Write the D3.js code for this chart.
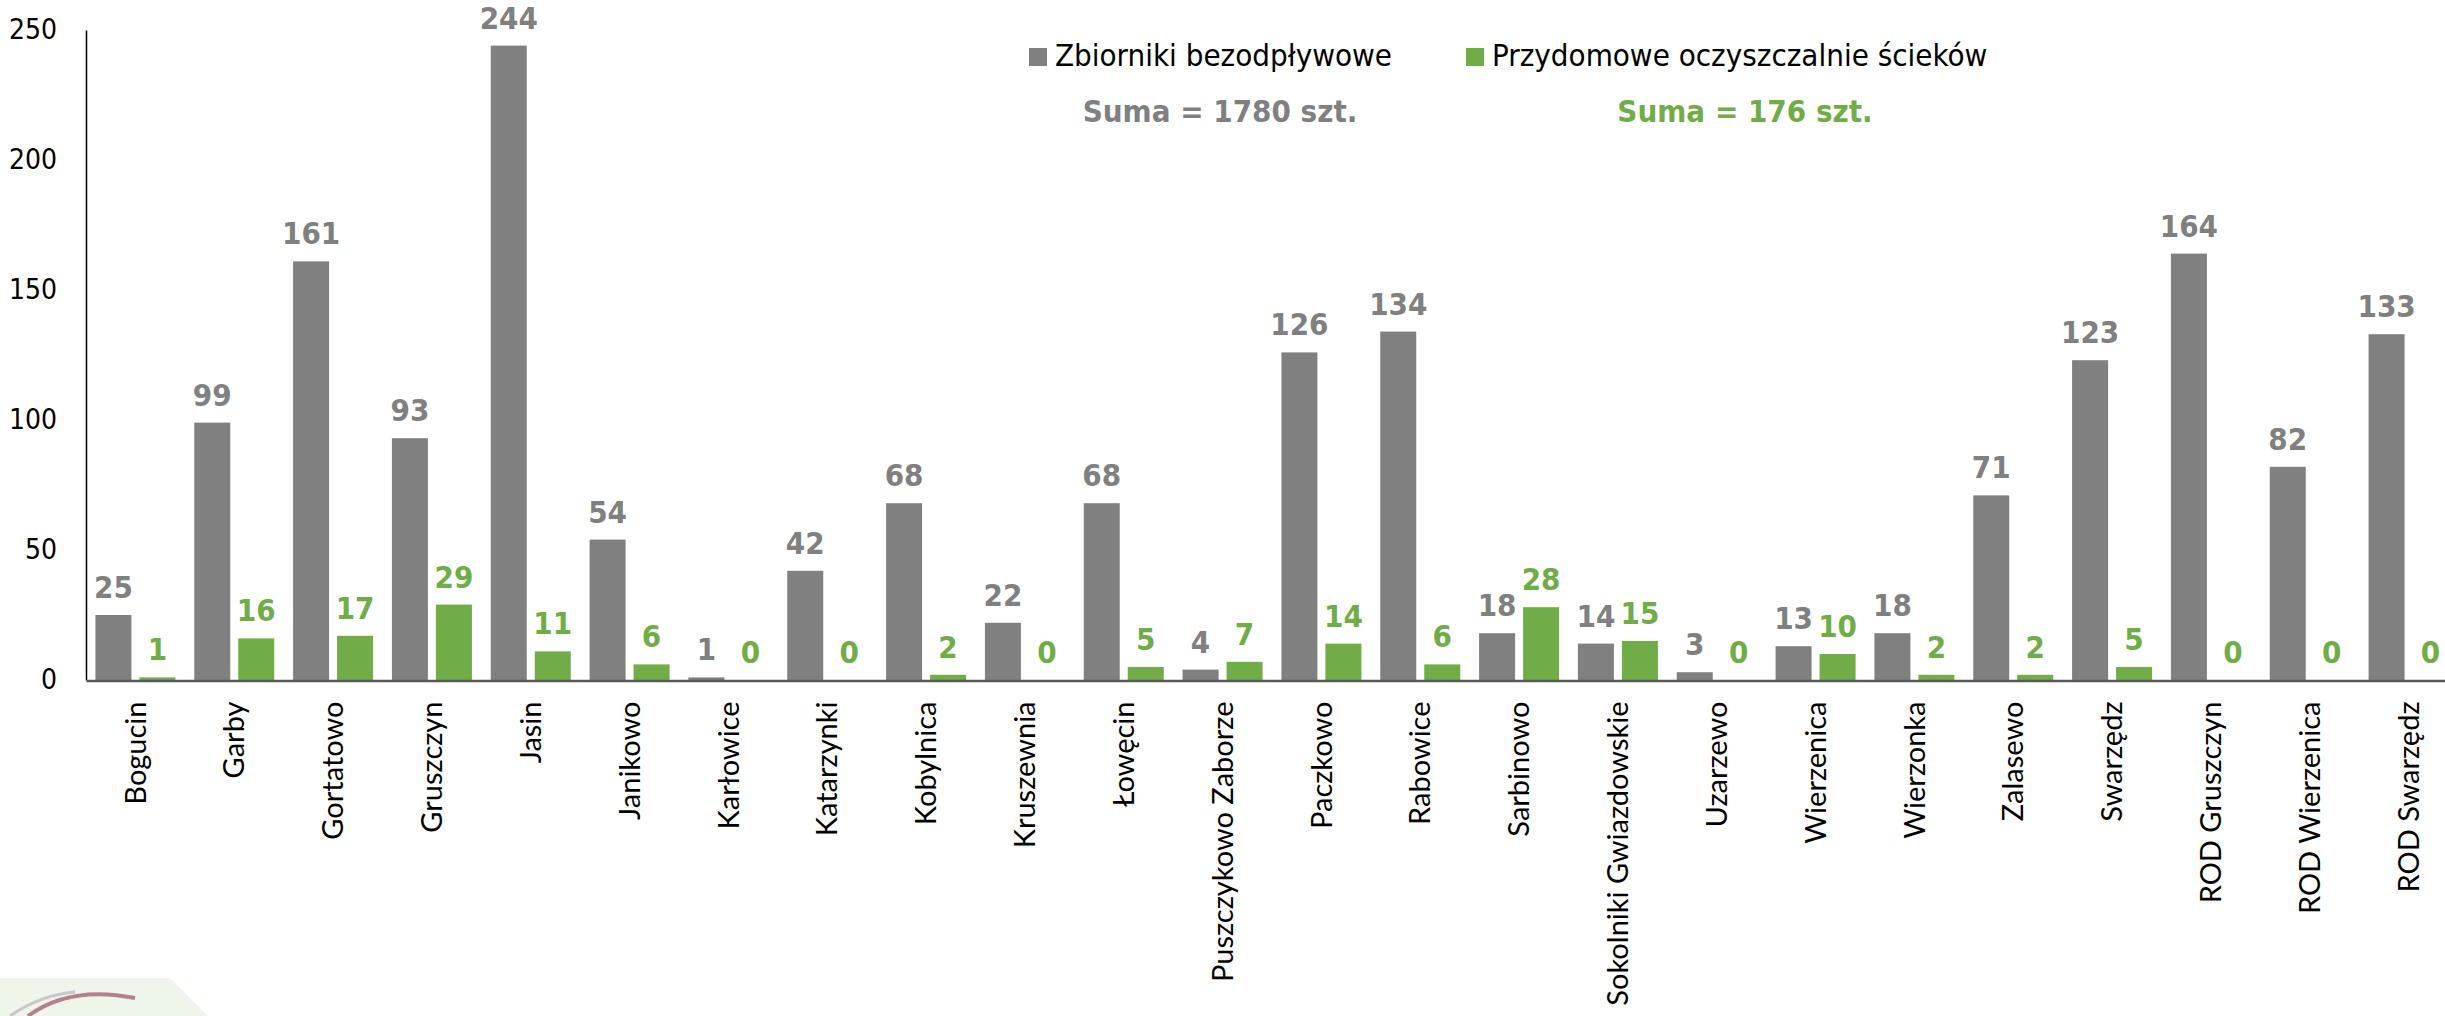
<!DOCTYPE html>
<html>
  <head>
    <meta charset="UTF-8" />
    <script src="https://cdnjs.cloudflare.com/ajax/libs/d3/7.8.5/d3.min.js"></script>
    <style>
      body { margin: 0; background: #fff; }
      .din { font-family: "DejaVu Sans Condensed", "DejaVu Sans", sans-serif; font-stretch: condensed; }
      .cat { font-family: Lato, "Noto Sans", sans-serif; }
    </style>
  </head>
  <body>
    <div id="viz"><svg style="width:2445px;height:1016px;"></svg></div>
    <script>
      const categories = [
        "Bogucin", "Garby", "Gortatowo", "Gruszczyn", "Jasin", "Janikowo",
        "Karłowice", "Katarzynki", "Kobylnica", "Kruszewnia", "Łowęcin",
        "Puszczykowo Zaborze", "Paczkowo", "Rabowice", "Sarbinowo",
        "Sokolniki Gwiazdowskie", "Uzarzewo", "Wierzenica", "Wierzonka",
        "Zalasewo", "Swarzędz", "ROD Gruszczyn", "ROD Wierzenica", "ROD Swarzędz"
      ];
      const zbiorniki = [25, 99, 161, 93, 244, 54, 1, 42, 68, 22, 68, 4, 126, 134, 18, 14, 3, 13, 18, 71, 123, 164, 82, 133];
      const oczyszczalnie = [1, 16, 17, 29, 11, 6, 0, 0, 2, 0, 5, 7, 14, 6, 28, 15, 0, 10, 2, 2, 5, 0, 0, 0];
      const seriesNames = ["Zbiorniki bezodpływowe", "Przydomowe oczyszczalnie ścieków"];
      const yTicks = [0, 50, 100, 150, 200, 250];

      const gray = "#808080",
        green = "#70ad47";

      const svg = d3.select("svg");

      // faint logo in the corner
      svg.append("path")
        .attr("d", "M0,978 L170,978 L208,1016 L0,1016 Z")
        .attr("fill", "#eef6ec");
      svg.append("path")
        .attr("d", "M28,1016 Q70,985 135,998")
        .attr("fill", "none")
        .attr("stroke", "#b5808e")
        .attr("stroke-width", 4);
      svg.append("path")
        .attr("d", "M10,1016 Q40,995 75,992")
        .attr("fill", "none")
        .attr("stroke", "#c8c8c8")
        .attr("stroke-width", 3);

      const xScale = d3.scaleBand()
          .domain(categories)
          .range([86, 2458]),
        xSeries = d3.scaleBand()
          .domain([0, 1])
          .range([0, xScale.bandwidth()])
          .paddingInner(0.182)
          .paddingOuter(0.214),
        yScale = d3.scaleLinear()
          .domain([0, 250])
          .range([680, 30]);

      const yAxis = d3.axisLeft(yScale)
        .tickValues(yTicks)
        .tickSize(0)
        .tickPadding(29);
      const yAxisG = svg.append("g")
        .attr("transform", "translate(86,0)")
        .call(yAxis);
      yAxisG.select(".domain").attr("stroke", "#000").attr("stroke-width", 1.5);
      yAxisG.selectAll("text")
        .attr("class", "din")
        .attr("font-size", 28)
        .attr("fill", "#000");

      const rows = categories.map((c, i) => ({ cat: c, values: [zbiorniki[i], oczyszczalnie[i]] }));
      const colors = [gray, green];

      const groups = svg.selectAll("g.cat")
        .data(rows)
        .enter()
        .append("g")
        .attr("class", "cat")
        .attr("transform", d => `translate(${xScale(d.cat)},0)`);

      groups.selectAll("rect")
        .data(d => d.values)
        .enter()
        .append("rect")
        .attr("x", (d, i) => xSeries(i))
        .attr("width", xSeries.bandwidth())
        .attr("y", d => yScale(d))
        .attr("height", d => yScale(0) - yScale(d))
        .attr("fill", (d, i) => colors[i]);

      groups.selectAll("text.val")
        .data(d => d.values)
        .enter()
        .append("text")
        .attr("class", "val din")
        .attr("x", (d, i) => xSeries(i) + xSeries.bandwidth() / 2)
        .attr("y", d => yScale(d) - 17)
        .attr("text-anchor", "middle")
        .attr("font-size", 31)
        .attr("font-weight", "bold")
        .attr("fill", (d, i) => colors[i])
        .text(d => d);

      // x axis
      const xAxis = d3.axisBottom(xScale).tickSize(0).tickPadding(0);
      const xAxisG = svg.append("g")
        .attr("transform", "translate(0,680.5)")
        .call(xAxis);
      xAxisG.select(".domain").attr("stroke", "#595959").attr("stroke-width", 2.5);
      xAxisG.selectAll("text")
        .attr("class", "cat")
        .attr("font-size", 29)
        .attr("fill", "#000")
        .attr("text-anchor", "end")
        .attr("dy", "0.35em")
        .attr("transform", "translate(0,21) rotate(-90)")
        .attr("x", 0)
        .attr("y", 0);

      // legend
      const legendX = [1029, 1466],
        sumX = [1220, 1745],
        sums = [d3.sum(zbiorniki), d3.sum(oczyszczalnie)];
      seriesNames.forEach((name, i) => {
        svg.append("rect")
          .attr("x", legendX[i])
          .attr("y", 48)
          .attr("width", 18)
          .attr("height", 18)
          .attr("fill", colors[i]);
        svg.append("text")
          .attr("class", "din")
          .attr("x", legendX[i] + 26)
          .attr("y", 66)
          .attr("font-size", 31)
          .attr("fill", "#000")
          .text(name);
        svg.append("text")
          .attr("class", "din")
          .attr("x", sumX[i])
          .attr("y", 122)
          .attr("text-anchor", "middle")
          .attr("font-size", 31)
          .attr("font-weight", "bold")
          .attr("fill", colors[i])
          .text(`Suma = ${sums[i]} szt.`);
      });
    </script>
  </body>
</html>
